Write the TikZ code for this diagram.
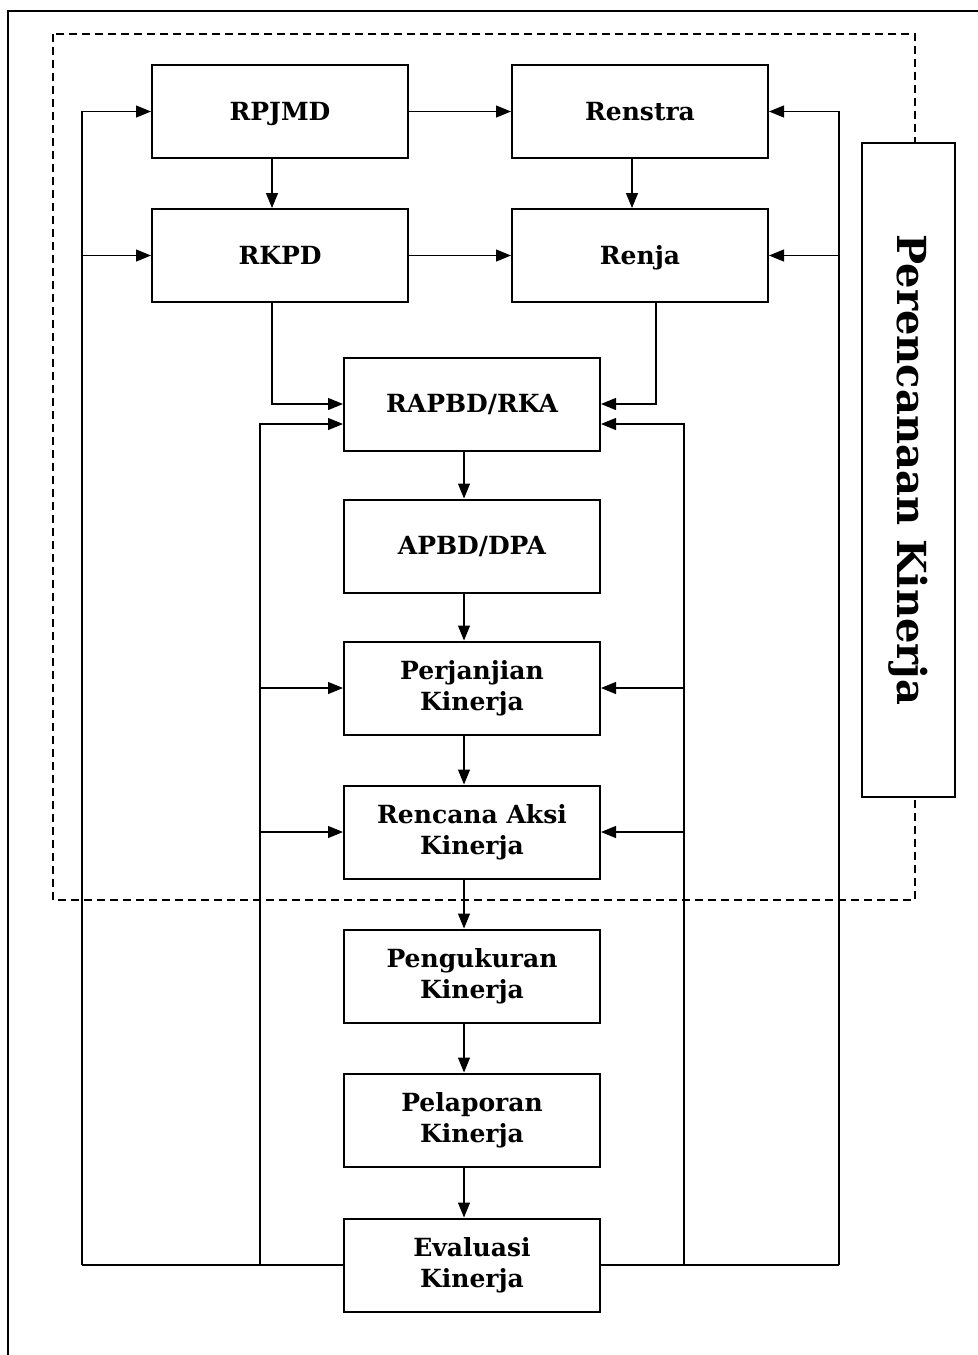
\documentclass[tikz,border=0pt]{standalone}
\usepackage{fontspec}
\setmainfont{DejaVu Serif}
\usetikzlibrary{arrows.meta}

\begin{document}
\begin{tikzpicture}[x=0.5pt,y=-0.5pt,
    box/.style={draw,line width=1pt,fill=white,minimum width=128pt,minimum height=46.5pt,
        align=center,font=\fontsize{12.5}{15.5}\selectfont\bfseries,inner sep=0pt},
    single/.style={box,text height=9pt,text depth=0.5pt},
    arr/.style={line width=0.6pt,-{Triangle[length=7.5pt,width=6pt]}},
    link/.style={line width=0.6pt}]

    \useasboundingbox (0,0) rectangle (978,1355);
    \clip (0,0) rectangle (978,1355);

    % outer frame and planning area %
    \draw[line width=0.8pt] (8,11) rectangle (1000,1400);
    \draw[line width=1.4pt,dash pattern=on 4pt off 2.5pt] (53,34) rectangle (915,900);

    \node[box,minimum width=46.5pt,minimum height=327pt] (plan) at (908.5,470) {};
    \node[rotate=-90,font=\fontsize{20}{24}\selectfont\bfseries] (plantext) at (plan.center) {Perencanaan Kinerja};

    \node[single] (rpjmd) at (280,111.5) {RPJMD};
    \node[single] (renstra) at (640,111.5) {Renstra};
    \node[single] (rkpd) at (280,255.5) {RKPD};
    \node[single] (renja) at (640,255.5) {Renja};
    \node[single] (rapbd) at (472,404) {RAPBD/RKA};
    \node[single] (apbd) at (472,546) {APBD/DPA};
    \node[box] (perjanjian) at (472,688) {Perjanjian\\Kinerja};
    \node[box] (rencana) at (472,832) {Rencana Aksi\\Kinerja};
    \node[box] (pengukuran) at (472,976) {Pengukuran\\Kinerja};
    \node[box] (pelaporan) at (472,1120) {Pelaporan\\Kinerja};
    \node[box] (evaluasi) at (472,1265) {Evaluasi\\Kinerja};

    % main flow %
    \draw[arr] (rpjmd) -- (renstra);
    \draw[arr] (rkpd) -- (renja);
    \foreach \a/\b in {rpjmd/rkpd, renstra/renja, rapbd/apbd, apbd/perjanjian, perjanjian/rencana,
        rencana/pengukuran, pengukuran/pelaporan, pelaporan/evaluasi}
        \draw[arr] ([xshift=-4pt]\a.south) -- ([xshift=-4pt]\b.north);
    \draw[arr] ([xshift=-4pt]rkpd.south) |- (rapbd.west);
    \draw[arr] ([xshift=8pt]renja.south) |- (rapbd.east);

    % feedback from evaluasi %
    \coordinate (lo) at (82,1265);
    \coordinate (li) at (260,1265);
    \coordinate (ri) at (684,1265);
    \coordinate (ro) at (839,1265);

    \draw[link] (evaluasi.west) -- (lo);
    \draw[link] (evaluasi.east) -- (ro);
    \draw[arr] (lo) |- (rpjmd.west);
    \draw[arr] (lo |- rkpd.west) -- (rkpd.west);
    \draw[arr] (ro) |- (renstra.east);
    \draw[arr] (ro |- renja.east) -- (renja.east);

    \draw[arr] (li) |- ([yshift=-10pt]rapbd.west);
    \draw[arr] (li |- perjanjian.west) -- (perjanjian.west);
    \draw[arr] (li |- rencana.west) -- (rencana.west);
    \draw[arr] (ri) |- ([yshift=-10pt]rapbd.east);
    \draw[arr] (ri |- perjanjian.east) -- (perjanjian.east);
    \draw[arr] (ri |- rencana.east) -- (rencana.east);

\end{tikzpicture}
\end{document}
